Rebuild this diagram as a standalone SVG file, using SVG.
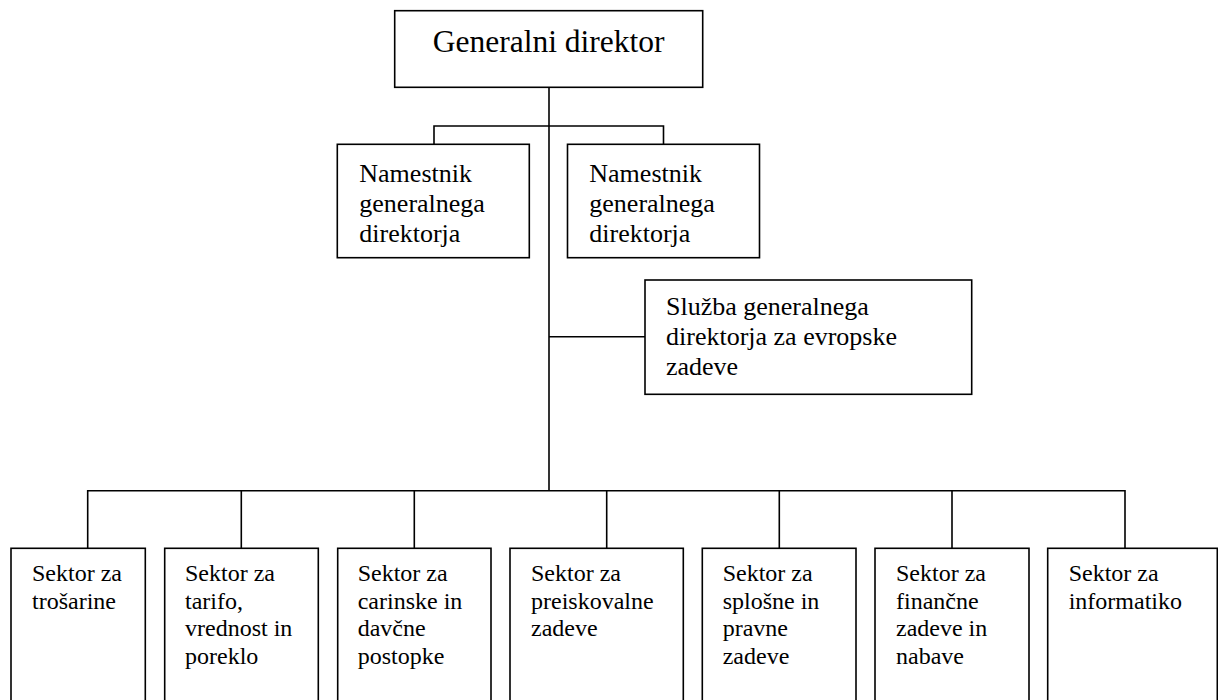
<svg xmlns="http://www.w3.org/2000/svg" width="1218" height="700" viewBox="0 0 1218 700">
<style>
.box{fill:#fff;stroke:#000;stroke-width:1.6}
.ln{fill:none;stroke:#000;stroke-width:1.6}
.t1{font-size:31.5px}
.t2{font-size:26px}
.t3{font-size:24px}
</style>
<rect width="1218" height="700" fill="#fff"/>
<g id="connectors" class="ln">
<path d="M549 87.5V490.7"/>
<path d="M434 144.3V126H663.5V144.3"/>
<path d="M549 336.7H645"/>
<path d="M87.7 548.3V490.7H1125V548.3"/>
<path d="M241.3 490.7V548.3M414.3 490.7V548.3M606.7 490.7V548.3M779.3 490.7V548.3M952 490.7V548.3"/>
</g>
<g font-family="'Liberation Serif', 'Times New Roman', 'DejaVu Serif', serif" fill="#000">
<g id="gd"><rect class="box" x="394.7" y="10.7" width="308" height="76.6"/><text class="t1" x="548.7" y="52" text-anchor="middle">Generalni direktor</text></g>
<g id="namestnik1"><rect class="box" x="337.3" y="144.3" width="192" height="113.4"/><text class="t2" x="359.3" y="181.7">Namestnik<tspan x="359.3" dy="30">generalnega</tspan><tspan x="359.3" dy="30">direktorja</tspan></text></g>
<g id="namestnik2"><rect class="box" x="567.5" y="144.3" width="192" height="113.4"/><text class="t2" x="589.3" y="181.7">Namestnik<tspan x="589.3" dy="30">generalnega</tspan><tspan x="589.3" dy="30">direktorja</tspan></text></g>
<g id="sluzba"><rect class="box" x="645" y="280" width="326.7" height="114.3"/><text class="t2" x="666" y="315">Služba generalnega<tspan x="666" dy="30">direktorja za evropske</tspan><tspan x="666" dy="30">zadeve</tspan></text></g>
<g id="s1"><rect class="box" x="11" y="548.3" width="134.3" height="165"/><text class="t3" x="32" y="581">Sektor za<tspan x="32" dy="27.5">trošarine</tspan></text></g>
<g id="s2"><rect class="box" x="164.7" y="548.3" width="153.6" height="165"/><text class="t3" x="185" y="581">Sektor za<tspan x="185" dy="27.5">tarifo,</tspan><tspan x="185" dy="27.5">vrednost in</tspan><tspan x="185" dy="27.5">poreklo</tspan></text></g>
<g id="s3"><rect class="box" x="337.7" y="548.3" width="153.3" height="165"/><text class="t3" x="357.7" y="581">Sektor za<tspan x="357.7" dy="27.5">carinske in</tspan><tspan x="357.7" dy="27.5">davčne</tspan><tspan x="357.7" dy="27.5">postopke</tspan></text></g>
<g id="s4"><rect class="box" x="510" y="548.3" width="173.3" height="165"/><text class="t3" x="531" y="581">Sektor za<tspan x="531" dy="27.5">preiskovalne</tspan><tspan x="531" dy="27.5">zadeve</tspan></text></g>
<g id="s5"><rect class="box" x="702.3" y="548.3" width="153.7" height="165"/><text class="t3" x="722.7" y="581">Sektor za<tspan x="722.7" dy="27.5">splošne in</tspan><tspan x="722.7" dy="27.5">pravne</tspan><tspan x="722.7" dy="27.5">zadeve</tspan></text></g>
<g id="s6"><rect class="box" x="875" y="548.3" width="154" height="165"/><text class="t3" x="896" y="581">Sektor za<tspan x="896" dy="27.5">finančne</tspan><tspan x="896" dy="27.5">zadeve in</tspan><tspan x="896" dy="27.5">nabave</tspan></text></g>
<g id="s7"><rect class="box" x="1047.7" y="548.3" width="169.6" height="165"/><text class="t3" x="1068.7" y="581">Sektor za<tspan x="1068.7" dy="27.5">informatiko</tspan></text></g>
</g>
</svg>
